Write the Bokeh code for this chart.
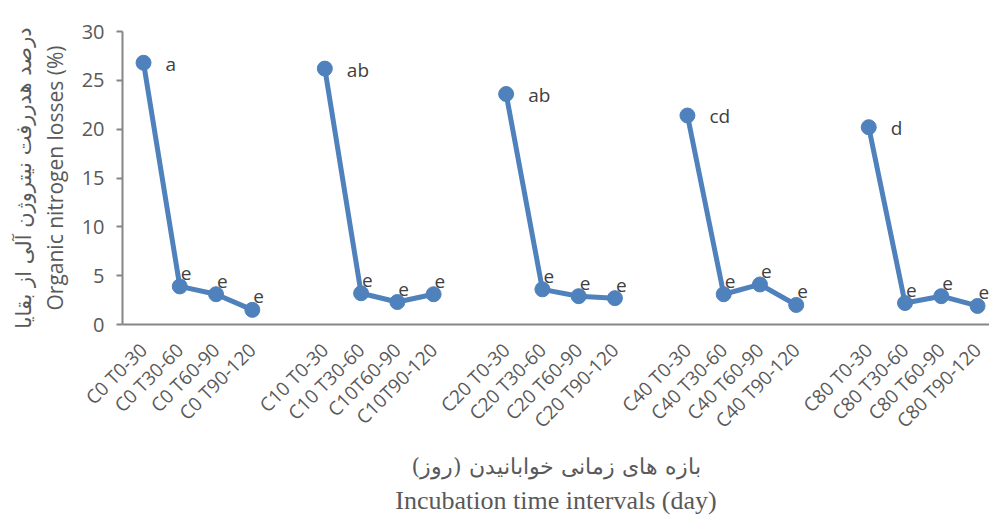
from bokeh.plotting import figure
from bokeh.models import FixedTicker, Range1d, Title, ColumnDataSource
from bokeh.embed import file_html
from bokeh.resources import INLINE
from bokeh.core.properties import value
import math

groups = ["C0", "C10", "C20", "C40", "C80"]
periods = ["T0-30", "T30-60", "T60-90", "T90-120"]
tick_labels = [
    "C0 T0-30", "C0 T30-60", "C0 T60-90", "C0 T90-120",
    "C10 T0-30", "C10 T30-60", "C10T60-90", "C10T90-120",
    "C20 T0-30", "C20 T30-60", "C20 T60-90", "C20 T90-120",
    "C40 T0-30", "C40 T30-60", "C40 T60-90", "C40 T90-120",
    "C80 T0-30", "C80 T30-60", "C80 T60-90", "C80 T90-120",
]
values_c0 = [26.8, 3.9, 3.1, 1.5]
values_c10 = [26.2, 3.2, 2.3, 3.1]
values_c20 = [23.6, 3.6, 2.9, 2.7]
values_c40 = [21.4, 3.1, 4.1, 2.0]
values_c80 = [20.2, 2.2, 2.9, 1.9]
letters_c0 = ["a", "e", "e", "e"]
letters_c10 = ["ab", "e", "e", "e"]
letters_c20 = ["ab", "e", "e", "e"]
letters_c40 = ["cd", "e", "e", "e"]
letters_c80 = ["d", "e", "e", "e"]

all_values = [values_c0, values_c10, values_c20, values_c40, values_c80]
all_letters = [letters_c0, letters_c10, letters_c20, letters_c40, letters_c80]

BLUE = "#4f81bd"
GRAY_TXT = "#595959"
AXIS = "#868686"

p = figure(width=989, height=515, output_backend="svg", toolbar_location=None,
           x_range=Range1d(-0.58, 23.33), y_range=Range1d(0, 30),
           min_border_left=122, min_border_right=0, min_border_top=31,
           min_border_bottom=191)
p.outline_line_color = None
p.xgrid.visible = False
p.ygrid.visible = False

tick_pos = []
overrides = {}
k = 0
for gi in range(len(groups)):
    xs = [gi * 5 + i for i in range(len(periods))]
    ys = all_values[gi]
    p.line(xs, ys, line_color=BLUE, line_width=5)
    p.scatter(xs, ys, size=15, fill_color=BLUE, line_color=BLUE)
    first = ColumnDataSource(dict(x=[xs[0]], y=[ys[0]], t=[all_letters[gi][0]]))
    rest = ColumnDataSource(dict(x=xs[1:], y=ys[1:], t=all_letters[gi][1:]))
    p.text("x", "y", text="t", source=first, x_offset=22, y_offset=1,
           text_align="left", text_baseline="middle", text_font=value("Open Sans"),
           text_font_size="19px", text_color="#404040")
    p.text("x", "y", text="t", source=rest, x_offset=1, y_offset=-13,
           text_align="left", text_baseline="middle", text_font=value("Open Sans"),
           text_font_size="19px", text_color="#404040")
    for i, x in enumerate(xs):
        tick_pos.append(x)
        overrides[x] = tick_labels[k]
        k += 1

p.xaxis.ticker = FixedTicker(ticks=tick_pos)
p.xaxis.major_label_overrides = overrides
p.xaxis.major_label_orientation = math.pi / 4
p.xaxis.major_tick_line_color = None
p.xaxis.minor_tick_line_color = None
p.xaxis.axis_line_color = AXIS
p.xaxis.axis_line_width = 2
p.xaxis.major_label_text_font = "Open Sans"
p.xaxis.major_label_text_font_size = "19px"
p.xaxis.major_label_text_color = GRAY_TXT
p.xaxis.major_label_standoff = 16
p.xaxis.axis_label = "بازه های زمانی خوابانیدن (روز)"
p.xaxis.axis_label_text_font = "DejaVu Serif"
p.xaxis.axis_label_text_font_style = "normal"
p.xaxis.axis_label_text_font_size = "22px"
p.xaxis.axis_label_text_color = GRAY_TXT
p.xaxis.axis_label_standoff = 9

p.add_layout(Title(text="Incubation time intervals (day)", align="center",
                   text_font="Liberation Serif", text_font_style="normal",
                   text_font_size="26px", text_color=GRAY_TXT, standoff=2), "below")

p.yaxis.ticker = FixedTicker(ticks=[0, 5, 10, 15, 20, 25, 30])
p.yaxis.minor_tick_line_color = None
p.yaxis.axis_line_color = AXIS
p.yaxis.axis_line_width = 2
p.yaxis.major_tick_line_color = AXIS
p.yaxis.major_tick_line_width = 2
p.yaxis.major_tick_out = 6
p.yaxis.major_tick_in = 0
p.yaxis.major_label_standoff = 12
p.yaxis.major_label_text_font = "Open Sans"
p.yaxis.major_label_text_font_size = "20px"
p.yaxis.major_label_text_color = GRAY_TXT
p.yaxis.axis_label = "Organic nitrogen losses (%)"
p.yaxis.axis_label_text_font = "Open Sans"
p.yaxis.axis_label_text_font_style = "normal"
p.yaxis.axis_label_text_font_size = "21px"
p.yaxis.axis_label_text_color = GRAY_TXT
p.yaxis.axis_label_standoff = 10

p.add_layout(Title(text="درصد هدررفت نیتروژن آلی از بقایا", align="center",
                   text_font="DejaVu Sans", text_font_style="normal",
                   text_font_size="21px", text_color=GRAY_TXT, standoff=4), "left")

open("out.html", "w").write(file_html(p, INLINE))
